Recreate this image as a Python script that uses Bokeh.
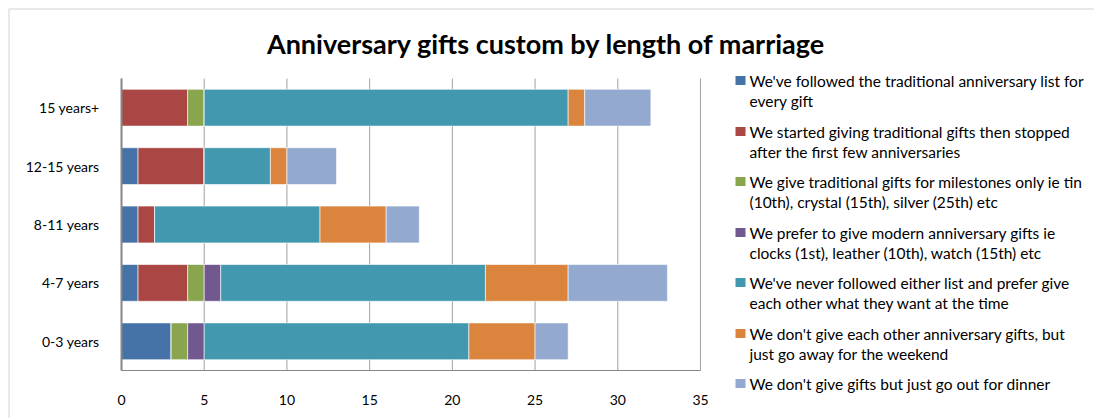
from bokeh.plotting import figure
from bokeh.models import Range1d, FixedTicker, Label, BoxAnnotation, LinearAxis
from bokeh.embed import file_html
from bokeh.resources import INLINE

categories = ["0-3 years", "4-7 years", "8-11 years", "12-15 years", "15 years+"]
followed = [3, 1, 1, 1, 0]
started_stopped = [0, 3, 1, 4, 4]
milestones = [1, 1, 0, 0, 1]
modern = [1, 1, 0, 0, 0]
never = [16, 16, 10, 4, 22]
away = [4, 5, 4, 1, 1]
dinner = [2, 6, 2, 3, 4]

series_keys = ["followed", "started_stopped", "milestones", "modern", "never", "away", "dinner"]
series_labels = [
    ["We've followed the traditional anniversary list for", "every gift"],
    ["We started giving traditional gifts then stopped", "after the first few anniversaries"],
    ["We give traditional gifts for milestones only ie tin", "(10th), crystal (15th), silver (25th) etc"],
    ["We prefer to give modern anniversary gifts ie", "clocks (1st), leather (10th), watch (15th) etc"],
    ["We've never followed either list and prefer give", "each other what they want at the time"],
    ["We don't give each other anniversary gifts, but", "just go away for the weekend"],
    ["We don't give gifts but just go out for dinner"],
]
colors = ["#4572A7", "#AA4643", "#89A54E", "#71588F", "#4198AF", "#DB843D", "#93A9CF"]
xticks = [0, 5, 10, 15, 20, 25, 30, 35]
title = "Anniversary gifts custom by length of marriage"

FONT = "Lato"
GRID = "#a0a0a0"
AXIS = "#868686"

W, H = 1094, 418
# plot-area placement in canvas pixels
PL, PR, PT, PB = 121, 700, 78, 370
XMAX = 35
n = len(categories)
sx = (PR - PL) / XMAX
sy = (PB - PT) / n
x_start = -PL / sx
x_end = XMAX + (W - PR) / sx
y_end = n - 0.5 + PT / sy
y_start = -0.5 - (H - PB) / sy

ypos = list(range(n))
data = dict(y=ypos, followed=followed, started_stopped=started_stopped,
            milestones=milestones, modern=modern, never=never, away=away, dinner=dinner)

p = figure(width=W, height=H, x_range=Range1d(x_start, x_end), y_range=Range1d(y_start, y_end),
           output_backend="svg", toolbar_location=None, x_axis_location=None, y_axis_location=None,
           min_border=0, min_border_left=0, min_border_right=0, min_border_top=0, min_border_bottom=0)
p.outline_line_color = None
p.xgrid.visible = False
p.ygrid.visible = False
p.background_fill_color = "white"
p.border_fill_color = "white"

# vertical gridlines at tick positions
p.segment(x0=xticks, x1=xticks, y0=[-0.5] * len(xticks), y1=[n - 0.5] * len(xticks),
          line_color=GRID, line_width=1)

p.hbar_stack(series_keys, y="y", height=0.63, color=colors, source=data,
             line_color="white", line_alpha=0.6, line_width=1)

xaxis = LinearAxis(fixed_location=-0.5, bounds=(0, XMAX), ticker=FixedTicker(ticks=xticks),
                   major_tick_line_color=None, minor_tick_line_color=None,
                   axis_line_color=AXIS, axis_line_width=1, major_label_standoff=18,
                   major_label_text_font=FONT, major_label_text_font_size="14px",
                   major_label_text_color="#000000")
p.add_layout(xaxis, "below")

yaxis = LinearAxis(fixed_location=0, bounds=(-0.5, n - 0.5), ticker=FixedTicker(ticks=ypos),
                   major_label_overrides={i: c for i, c in zip(ypos, categories)},
                   major_tick_line_color=None, minor_tick_line_color=None,
                   axis_line_color=AXIS, axis_line_width=2, major_label_standoff=16,
                   major_label_text_font=FONT, major_label_text_font_size="14px",
                   major_label_text_color="#000000")
p.add_layout(yaxis, "left")

# canvas-pixel coordinate ranges for chart furniture
p.extra_x_ranges = {"px": Range1d(0, W)}
p.extra_y_ranges = {"px": Range1d(H, 0)}

p.add_layout(BoxAnnotation(left=8.5, right=3000, top=8.5, bottom=3000,
                           x_range_name="px", y_range_name="px",
                           fill_color=None, fill_alpha=0, line_color="#a0a0a0", line_width=1.5))

p.add_layout(Label(x=546, y=43, x_range_name="px", y_range_name="px", text=title,
                   text_font=FONT, text_font_style="bold", text_font_size="27px",
                   text_align="center", text_baseline="middle", text_color="#000000"))

line1 = [80, 131, 181, 232, 282, 333, 383]
for i, (lbls, c) in enumerate(zip(series_labels, colors)):
    y0 = line1[i]
    p.add_layout(BoxAnnotation(left=735, right=745, top=y0 - 4.5, bottom=y0 + 4.5,
                               x_range_name="px", y_range_name="px",
                               fill_color=c, fill_alpha=1, line_color=None))
    for j, t in enumerate(lbls):
        p.add_layout(Label(x=749, y=y0 + j * 20.7, x_range_name="px", y_range_name="px",
                           text=t, text_font=FONT, text_font_size="15.5px",
                           text_align="left", text_baseline="middle", text_color="#000000"))

open("out.html", "w").write(file_html(p, INLINE))
